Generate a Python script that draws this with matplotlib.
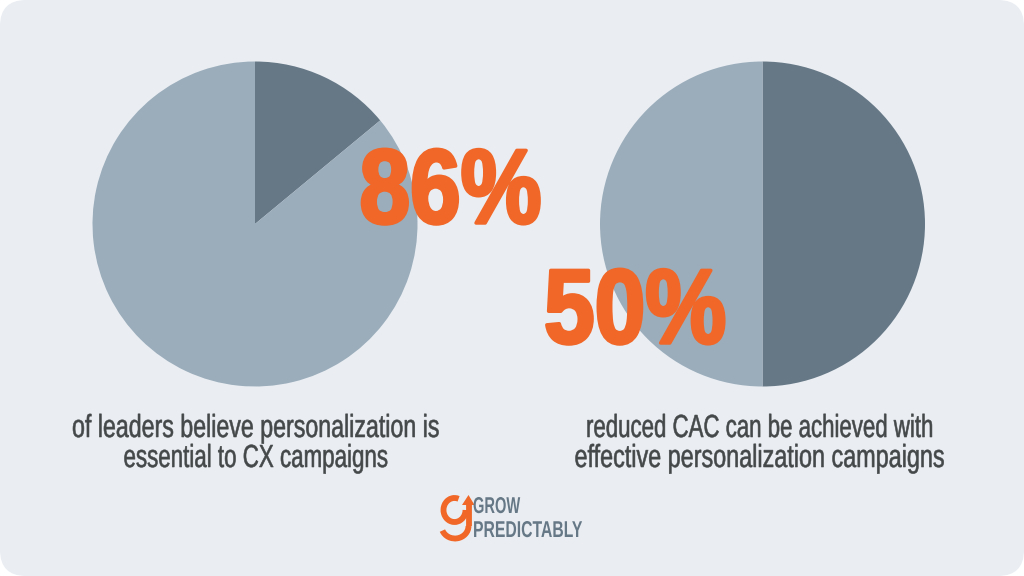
import matplotlib
matplotlib.use('Agg')
import matplotlib.pyplot as plt
import matplotlib.patheffects as pe
from matplotlib.patches import FancyBboxPatch, Arc, Polygon
from matplotlib.transforms import Affine2D

left_values = [14, 86]
right_values = [50, 50]
left_big = '86%'
right_big = '50%'
left_caption = ['of leaders believe personalization is', 'essential to CX campaigns']
right_caption = ['reduced CAC can be achieved with', 'effective personalization campaigns']
logo_lines = ['GROW', 'PREDICTABLY']

DARK = '#667886'
LIGHT = '#9BADBB'
ORANGE = '#F06727'
BG = '#EAEEF3'
TEXT = '#454849'
FONT = 'Liberation Sans'


# no condensed face installed, so squeeze the glyphs sideways when they are drawn
class Squeeze(pe.AbstractPathEffect):
    def __init__(self, x0, sx, bold=0):
        super().__init__()
        self.x0, self.sx, self.bold = x0, sx, bold

    def draw_path(self, renderer, gc, tpath, affine, rgbFace=None):
        aff = affine + Affine2D().translate(-self.x0, 0).scale(self.sx, 1).translate(self.x0, 0)
        if self.bold:
            gc0 = renderer.new_gc()
            gc0.copy_properties(gc)
            gc0.set_foreground(rgbFace)
            gc0.set_linewidth(self.bold)
            gc0.set_joinstyle('round')
            renderer.draw_path(gc0, tpath, aff, rgbFace)
            gc0.restore()
        else:
            renderer.draw_path(gc, tpath, aff, rgbFace)


fig = plt.figure(figsize=(10.24, 5.76), dpi=100, facecolor='white')
ax = fig.add_axes([0, 0, 1, 1])

ax.add_patch(FancyBboxPatch((26, 26), 972, 524, boxstyle='round,pad=26,rounding_size=26',
                            fc=BG, ec='none', zorder=0))

ax.pie(left_values, colors=[DARK, LIGHT], startangle=90, counterclock=False,
       center=(255, 352), radius=162.5, frame=True)
ax.pie(right_values, colors=[DARK, LIGHT], startangle=90, counterclock=False,
       center=(762.5, 352), radius=162.5, frame=True)
ax.set_xlim(0, 1024)
ax.set_ylim(0, 576)
ax.set_aspect('auto')
ax.axis('off')


def squeezed(x, y, s, width, size, color, ha='center', weight='normal', bold=0, zorder=5):
    t = ax.text(x, y, s, color=color, fontsize=size, fontweight=weight, family=FONT,
                ha=ha, va='baseline', zorder=zorder)
    w = t.get_window_extent(fig.canvas.get_renderer()).width
    t.set_path_effects([Squeeze(x, width / w, bold)])
    return t


squeezed(450.5, 353, left_big, 182, 76, ORANGE, weight='bold', bold=2.5)
squeezed(635, 233, right_big, 182, 76, ORANGE, weight='bold', bold=2.5)

squeezed(256, 139, left_caption[0], 368, 23, TEXT, bold=0.4)
squeezed(256, 109, left_caption[1], 265, 23, TEXT, bold=0.4)
squeezed(760, 139, right_caption[0], 348, 23, TEXT, bold=0.4)
squeezed(760, 109, right_caption[1], 371, 23, TEXT, bold=0.4)

# logo mark
ax.add_patch(Arc((454.5, 66), 22, 24, theta1=70, theta2=360, color=ORANGE, lw=4.2, zorder=3))
ax.add_patch(Arc((455, 50), 27, 25, theta1=200, theta2=360, color=ORANGE, lw=4.2, zorder=3))
ax.plot([468.5, 468.5], [50, 72], color=ORANGE, lw=4.2, solid_capstyle='butt', zorder=3)
ax.add_patch(Polygon([[462, 71], [468.5, 81], [474.5, 71]], closed=True, fc=ORANGE, ec='none', zorder=3))

squeezed(473, 63, logo_lines[0], 47, 16.5, DARK, ha='left', weight='bold')
squeezed(473, 39, logo_lines[1], 109, 16.5, DARK, ha='left', weight='bold')

fig.savefig('out.png', dpi=100)
